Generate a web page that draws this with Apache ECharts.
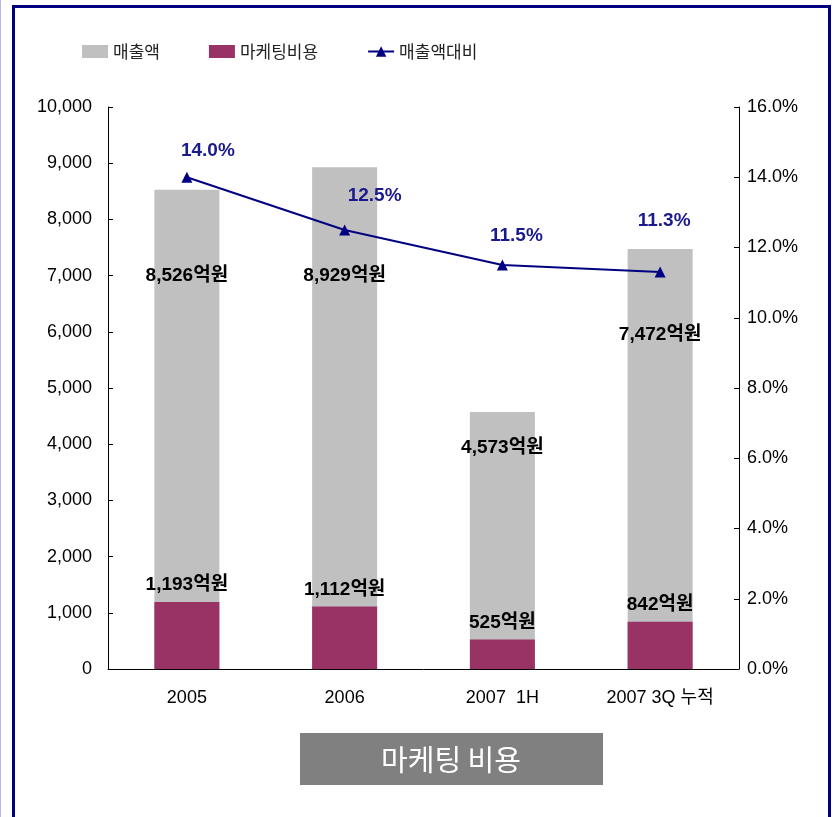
<!DOCTYPE html>
<html>
<head>
<meta charset="utf-8">
<script src="https://cdn.jsdelivr.net/npm/echarts@6/dist/echarts.min.js"></script>
<style>
  html, body { margin: 0; padding: 0; background: #fff; }
  #wrap { position: relative; width: 836px; height: 817px; overflow: hidden; }
  #chart { position: absolute; left: 0; top: 0; width: 836px; height: 817px; }
  /* 바깥 테두리 */
  #edge { position: absolute; left: 0; top: 0; width: 1px; height: 817px; background: #b8b8e8; }
  #frame { position: absolute; left: 12px; top: 5px; width: 813px; height: 900px;
           border: 3px solid #000080; pointer-events: none; }
</style>
</head>
<body>
<div id="wrap">
  <div id="chart"></div>
  <div id="edge"></div>
  <div id="frame"></div>
</div>
<script>
// 데이터
var categories = ['2005', '2006', '2007  1H', '2007 3Q 누적'];
var sales = [8526, 8929, 4573, 7472];          // 매출액 (억원)
var marketing = [1193, 1112, 525, 842];        // 마케팅비용 (억원)
var ratio = [14.0, 12.5, 11.5, 11.3];          // 매출액대비 (%)
var leftTicks = [0, 10000, 1000];
var rightTicks = [0, 16, 2];

// 라벨 위치 보정 (원본 차트의 수동 배치)
var salesLabelDy = [86, 109, 36, 86];
var ratioLabelShift = [[21, -21], [30, -29], [14, -24], [4, -46]];

var FONT = "'Liberation Sans', Arial, 'Noto Sans CJK KR', sans-serif";

function fmt(v) {
  return String(v).replace(/\B(?=(\d{3})+(?!\d))/g, ',');
}

var myChart = echarts.init(document.getElementById('chart'));

var option = {
  animation: false,
  textStyle: { fontFamily: FONT },
  legend: {
    left: 77, top: 38,
    itemWidth: 26, itemHeight: 13, itemGap: 49,
    textStyle: { fontSize: 17, color: '#222', fontFamily: "'Noto Sans CJK KR', sans-serif" },
    data: [
      { name: '매출액', icon: 'rect' },
      { name: '마케팅비용', icon: 'rect' },
      { name: '매출액대비' }
    ]
  },
  grid: { left: 108, right: 97, top: 107, bottom: 148 },
  xAxis: {
    type: 'category',
    data: categories,
    axisLine: { lineStyle: { color: '#000', width: 1 } },
    axisTick: { inside: true, length: 5, lineStyle: { color: '#000' } },
    axisLabel: { color: '#000', fontSize: 18, margin: 20 }
  },
  yAxis: [{
    type: 'value', min: leftTicks[0], max: leftTicks[1], interval: leftTicks[2],
    axisLine: { show: true, lineStyle: { color: '#000' } },
    axisTick: { show: true, inside: true, length: 5, lineStyle: { color: '#000' } },
    splitLine: { show: false },
    axisLabel: { color: '#000', fontSize: 18, margin: 16, formatter: fmt }
  }, {
    type: 'value', min: rightTicks[0], max: rightTicks[1], interval: rightTicks[2],
    position: 'right',
    axisLine: { show: true, lineStyle: { color: '#000' } },
    axisTick: { show: true, inside: true, length: 5, lineStyle: { color: '#000' } },
    splitLine: { show: false },
    axisLabel: { color: '#000', fontSize: 18, margin: 8, formatter: function (v) { return v.toFixed(1) + '%'; } }
  }],
  series: [{
    name: '매출액',
    type: 'bar',
    barWidth: 65,
    itemStyle: { color: '#c0c0c0' },
    data: sales.map(function (v, i) {
      return {
        value: v,
        label: { offset: [0, salesLabelDy[i]] }
      };
    }),
    label: {
      show: true, position: 'top', distance: 0, verticalAlign: 'middle',
      fontSize: 19, fontWeight: 'bold', color: '#000',
      formatter: function (p) { return fmt(p.value) + '억원'; }
    },
    z: 2
  }, {
    name: '마케팅비용',
    type: 'bar',
    barWidth: 65,
    barGap: '-100%',
    itemStyle: { color: '#993366' },
    data: marketing,
    label: {
      show: true, position: 'top', distance: 17, verticalAlign: 'middle',
      fontSize: 19, fontWeight: 'bold', color: '#000',
      formatter: function (p) { return fmt(p.value) + '억원'; }
    },
    z: 3
  }, {
    name: '매출액대비',
    type: 'line',
    yAxisIndex: 1,
    symbol: 'triangle',
    symbolSize: 11,
    itemStyle: { color: '#000080' },
    lineStyle: { color: '#000080', width: 2 },
    data: ratio.map(function (v, i) {
      return { value: v, label: { offset: ratioLabelShift[i] } };
    }),
    label: {
      show: true, position: 'top', distance: 0, verticalAlign: 'middle',
      fontSize: 19, fontWeight: 'bold', color: '#1a1a8c',
      formatter: function (p) { return p.value.toFixed(1) + '%'; }
    },
    z: 5
  }],
  graphic: [{
    type: 'group',
    left: 300, top: 733,
    children: [{
      type: 'rect',
      shape: { x: 0, y: 0, width: 303, height: 52 },
      style: { fill: '#808080' }
    }, {
      type: 'text',
      x: 151, y: 27,
      style: {
        text: '마케팅 비용', fill: '#fff', fontSize: 29,
        fontFamily: "'Noto Sans CJK KR', sans-serif",
        align: 'center', verticalAlign: 'middle'
      }
    }]
  }]
};

myChart.setOption(option);
</script>
</body>
</html>
